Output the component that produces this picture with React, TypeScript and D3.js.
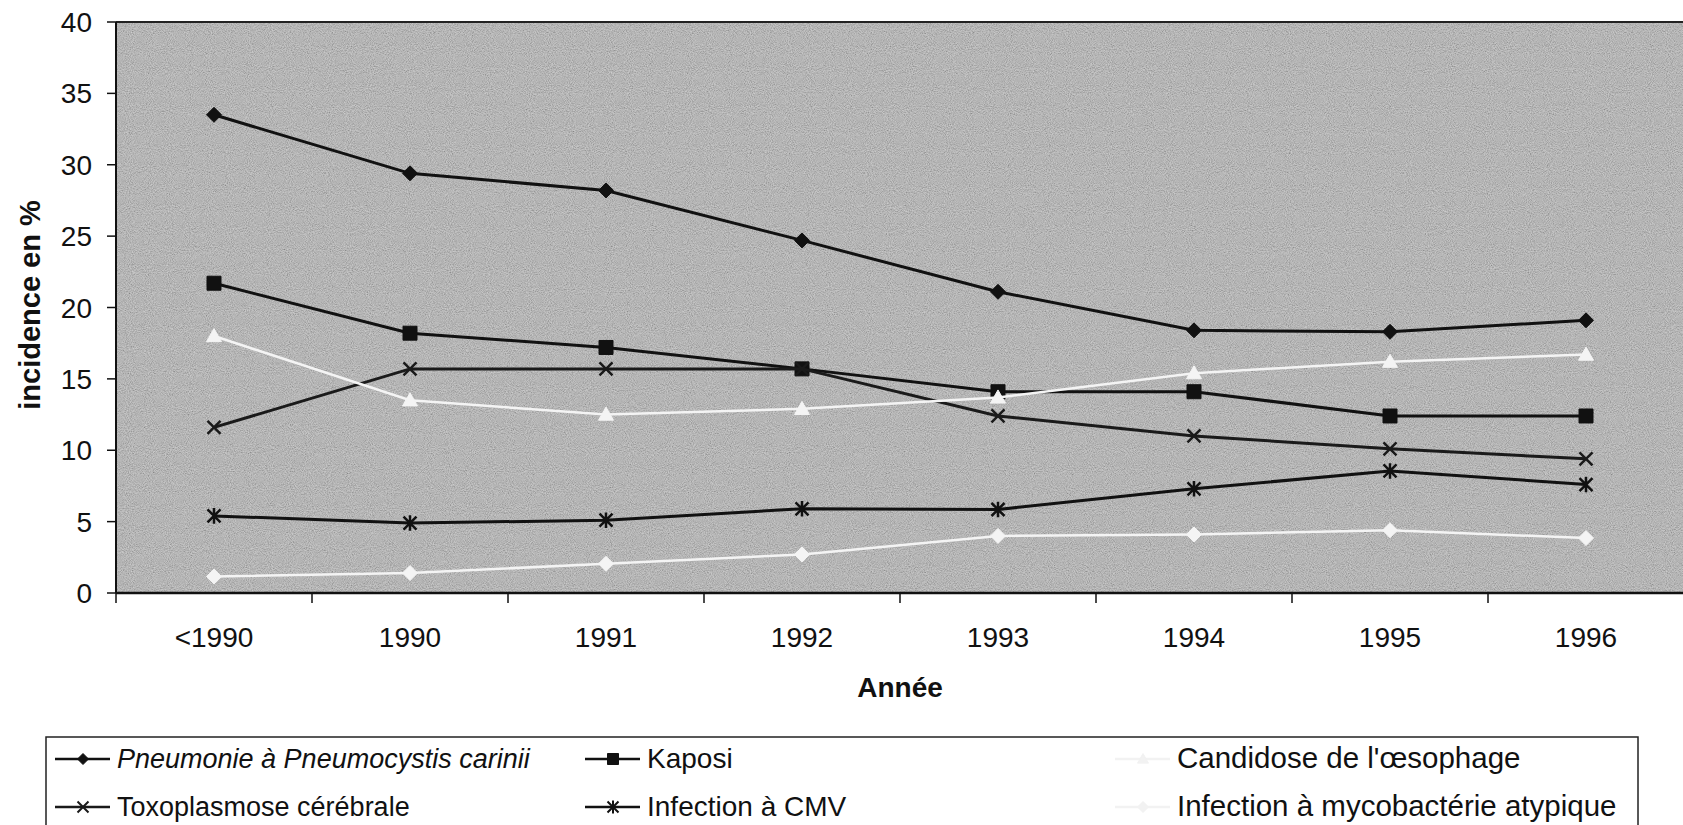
import * as d3 from "d3";

const categories = ["<1990", "1990", "1991", "1992", "1993", "1994", "1995", "1996"];
const yTicks = [0, 5, 10, 15, 20, 25, 30, 35, 40];

const pneumonie = [33.5, 29.4, 28.2, 24.7, 21.1, 18.4, 18.3, 19.1];
const kaposi = [21.7, 18.2, 17.2, 15.7, 14.1, 14.1, 12.4, 12.4];
const toxoplasmose = [11.6, 15.7, 15.7, 15.7, 12.4, 11.0, 10.1, 9.4];
const cmv = [5.4, 4.9, 5.1, 5.9, 5.85, 7.3, 8.55, 7.6];
const candidose = [18.0, 13.5, 12.5, 12.9, 13.7, 15.4, 16.2, 16.7];
const mycobacterie = [1.15, 1.4, 2.05, 2.7, 4.0, 4.1, 4.4, 3.85];

const W = 1683;
const H = 825;
const FONT = "'Liberation Sans', Arial, Helvetica, sans-serif";

// excel-like marker shapes, size = half width
const shapes: Record<string, d3.SymbolType> = {
  diamond: {
    draw(ctx, r) {
      ctx.moveTo(0, -r);
      ctx.lineTo(r, 0);
      ctx.lineTo(0, r);
      ctx.lineTo(-r, 0);
      ctx.closePath();
    },
  },
  square: {
    draw(ctx, r) {
      ctx.rect(-r, -r, 2 * r, 2 * r);
    },
  },
  triangle: {
    draw(ctx, r) {
      ctx.moveTo(0, -r);
      ctx.lineTo(r, r * 0.75);
      ctx.lineTo(-r, r * 0.75);
      ctx.closePath();
    },
  },
  times: {
    draw(ctx, r) {
      ctx.moveTo(-r, -r);
      ctx.lineTo(r, r);
      ctx.moveTo(-r, r);
      ctx.lineTo(r, -r);
    },
  },
  star: {
    draw(ctx, r) {
      ctx.moveTo(-r, -r);
      ctx.lineTo(r, r);
      ctx.moveTo(-r, r);
      ctx.lineTo(r, -r);
      ctx.moveTo(0, -r * 1.2);
      ctx.lineTo(0, r * 1.2);
    },
  },
};

const markerSize: Record<string, number> = {
  diamond: 7.5,
  square: 7,
  triangle: 7.5,
  times: 6.5,
  star: 6.5,
};

type Series = {
  name: string;
  values: number[];
  color: string;
  shape: string;
  filled: boolean;
  italic?: boolean;
  col: number;
  row: number;
};

const series: Series[] = [
  { name: "Pneumonie à Pneumocystis carinii", values: pneumonie, color: "#111", shape: "diamond", filled: true, italic: true, col: 0, row: 0 },
  { name: "Kaposi", values: kaposi, color: "#111", shape: "square", filled: true, col: 1, row: 0 },
  { name: "Toxoplasmose cérébrale", values: toxoplasmose, color: "#1a1a1a", shape: "times", filled: false, col: 0, row: 1 },
  { name: "Infection à CMV", values: cmv, color: "#111", shape: "star", filled: false, col: 1, row: 1 },
  { name: "Candidose de l'œsophage", values: candidose, color: "#f4f4f4", shape: "triangle", filled: true, col: 2, row: 0 },
  { name: "Infection à mycobactérie atypique", values: mycobacterie, color: "#f4f4f4", shape: "diamond", filled: true, col: 2, row: 1 },
];

const App = () => {
  const left = 116;
  const right = 1684;
  const top = 22;
  const bottom = 593;

  const x = d3.scaleBand().domain(categories).range([left, right]);
  const y = d3.scaleLinear().domain([0, 40]).range([bottom, top]);
  const cx = (c: string) => (x(c) ?? 0) + x.bandwidth() / 2;

  const line = d3
    .line<number>()
    .x((_, i) => cx(categories[i]))
    .y((d) => y(d));

  const marker = (shape: string, r: number) =>
    d3.symbol().type(shapes[shape]).size(r)() ?? "";

  const legendCols = [55, 585, 1115];
  const legendRows = [759, 807];
  const legendFont = [27, 28, 29.5];

  return (
    <svg
      width={W}
      height={H}
      viewBox={`0 0 ${W} ${H}`}
      style={{ position: "absolute", left: 0, top: 0, background: "#fff" }}
    >
      <defs>
        <filter id="grain" x="0" y="0" width="100%" height="100%">
          <feTurbulence type="fractalNoise" baseFrequency="0.95" numOctaves={2} seed={7} />
          <feColorMatrix
            type="matrix"
            values="1 0 0 0 0  1 0 0 0 0  1 0 0 0 0  0 0 0 0 1"
          />
        </filter>
      </defs>

      {/* plot background */}
      <rect x={left} y={top} width={right - left} height={bottom - top} fill="#b0b0b0" />
      <rect
        x={left}
        y={top}
        width={right - left}
        height={bottom - top}
        filter="url(#grain)"
        opacity={0.45}
      />
      <line x1={left} x2={right} y1={top} y2={top} stroke="#222" strokeWidth={2} />

      {/* y axis */}
      <line x1={left} x2={left} y1={top} y2={bottom} stroke="#111" strokeWidth={2} />
      {yTicks.map((t) => (
        <g key={t}>
          <line x1={107} x2={left} y1={y(t)} y2={y(t)} stroke="#111" strokeWidth={1.5} />
          <text
            x={92}
            y={y(t)}
            dy="0.36em"
            textAnchor="end"
            fontFamily={FONT}
            fontSize={28}
            fill="#111"
          >
            {t}
          </text>
        </g>
      ))}
      <text
        transform={`translate(40, 305) rotate(-90)`}
        textAnchor="middle"
        fontFamily={FONT}
        fontSize={29}
        fontWeight="bold"
        fill="#111"
      >
        incidence en %
      </text>

      {/* x axis */}
      <line x1={left} x2={right} y1={bottom} y2={bottom} stroke="#111" strokeWidth={2.5} />
      {categories.map((c) => (
        <g key={c}>
          <line
            x1={x(c)}
            x2={x(c)}
            y1={bottom}
            y2={bottom + 10}
            stroke="#111"
            strokeWidth={1.5}
          />
          <text
            x={cx(c)}
            y={647}
            textAnchor="middle"
            fontFamily={FONT}
            fontSize={28}
            fill="#111"
          >
            {c}
          </text>
        </g>
      ))}
      <text
        x={(left + right) / 2}
        y={697}
        textAnchor="middle"
        fontFamily={FONT}
        fontSize={28}
        fontWeight="bold"
        fill="#111"
      >
        Année
      </text>

      {/* series */}
      {series.map((s) => (
        <g key={s.name}>
          <path
            d={line(s.values) ?? ""}
            fill="none"
            stroke={s.color}
            strokeWidth={s.color === "#f4f4f4" ? 2.5 : 3}
          />
          {s.values.map((v, i) => (
            <path
              key={i}
              d={marker(s.shape, markerSize[s.shape])}
              transform={`translate(${cx(categories[i])},${y(v)})`}
              fill={s.filled ? s.color : "none"}
              stroke={s.color}
              strokeWidth={s.filled ? 1 : 2.5}
            />
          ))}
        </g>
      ))}

      {/* legend */}
      <rect x={46} y={737} width={1592} height={100} fill="#fff" stroke="#222" strokeWidth={1.5} />
      {series.map((s) => {
        const lx = legendCols[s.col];
        const ly = legendRows[s.row];
        const col = s.color === "#f4f4f4" ? "#f2f2f2" : s.color;
        return (
          <g key={s.name}>
            <line x1={lx} x2={lx + 55} y1={ly} y2={ly} stroke={col} strokeWidth={2.5} />
            <path
              d={marker(s.shape, 5.5)}
              transform={`translate(${lx + 28},${ly})`}
              fill={s.filled ? col : "none"}
              stroke={col}
              strokeWidth={s.filled ? 1 : 2}
            />
            <text
              x={lx + 62}
              y={ly + 9}
              fontFamily={FONT}
              fontSize={legendFont[s.col]}
              fontStyle={s.italic ? "italic" : "normal"}
              fill="#111"
            >
              {s.name}
            </text>
          </g>
        );
      })}
    </svg>
  );
};

export default App;
